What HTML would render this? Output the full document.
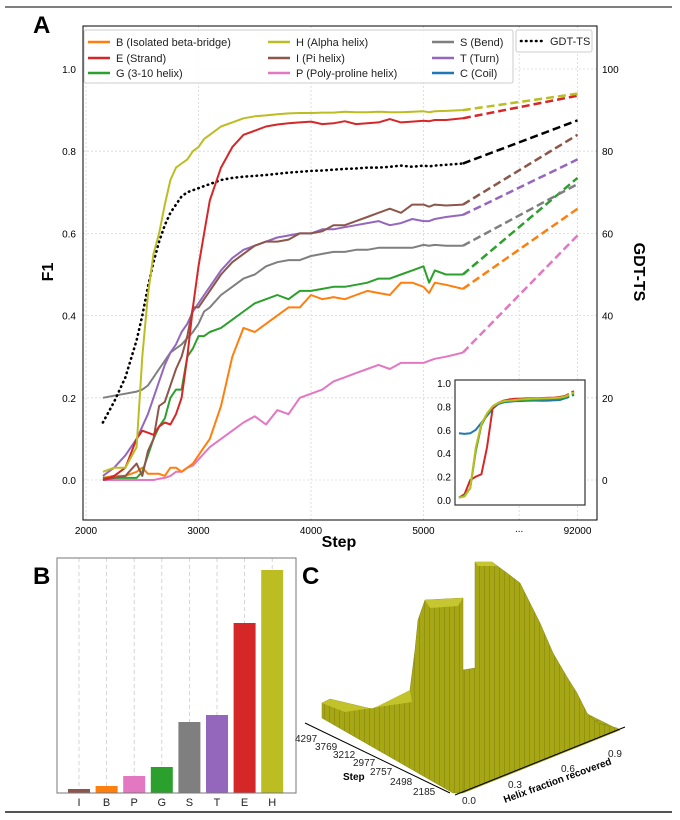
<!DOCTYPE html>
<html><head><meta charset="utf-8"><style>
html,body{margin:0;padding:0;background:#fff;}
svg{display:block;font-family:"Liberation Sans","DejaVu Sans",sans-serif;}
</style></head><body>
<svg id="fig" width="680" height="820" viewBox="0 0 680 820" xmlns="http://www.w3.org/2000/svg">
<defs>
  <pattern id="stripes" width="5" height="10" patternUnits="userSpaceOnUse">
    <rect width="5" height="10" fill="#a7a716"/>
    <line x1="4.5" y1="0" x2="4.5" y2="10" stroke="#8e8e10" stroke-width="0.8"/>
  </pattern>
  <pattern id="floorpat" width="12" height="6" patternUnits="userSpaceOnUse" patternTransform="rotate(-20)">
    <rect width="12" height="6" fill="#a4a418"/>
    <line x1="0" y1="5.5" x2="12" y2="5.5" stroke="#87870e" stroke-width="0.7"/>
  </pattern>
</defs>
<line x1="5" y1="7" x2="672" y2="7" stroke="#333" stroke-width="1.2"/>
<line x1="5" y1="812" x2="672" y2="812" stroke="#555" stroke-width="2"/>
<text x="33" y="33" font-size="24" font-weight="bold">A</text>
<text x="33" y="584" font-size="24" font-weight="bold">B</text>
<text x="302" y="584" font-size="24" font-weight="bold">C</text>
<g id="pa"></g>
<g id="pb"></g>
<g id="pc">
  <polygon points="463,793 463,700 500,690 560,700 600,720 620,730" fill="url(#floorpat)"/>
  <polygon points="463,793 463,670 475,668 475,562 492,562 507,573 520,583 530,603 540,623 553,653 567,677 577,693 587,713 597,723 617,728 620,730 463,793" fill="url(#stripes)" stroke="#8a8a10" stroke-width="0.5"/>
  <polygon points="322,703 330,699 372,709 405,695 410,690 415,650 418,620 425,600 463,598 463,793 453,793 322,718" fill="url(#stripes)" stroke="#8a8a10" stroke-width="0.5"/>
  <polygon points="322,703 330,699 372,709 410,690 412,702 345,712" fill="#c2c22a"/>
  <polygon points="425,600 463,598 458,606 430,608" fill="#c6c630"/>
  <polygon points="475,562 492,562 497,566 478,566" fill="#c6c630"/>
  <line x1="305" y1="723" x2="450" y2="793" stroke="#000" stroke-width="1"/>
  <line x1="455" y1="795" x2="625" y2="727" stroke="#000" stroke-width="1"/>
  <g font-size="10" fill="#222">
    <text x="295" y="742">4297</text><text x="315" y="750">3769</text><text x="333" y="758">3212</text>
    <text x="353" y="766">2977</text><text x="370" y="775">2757</text><text x="390" y="785">2498</text><text x="413" y="795">2185</text>
  </g>
  <text x="343" y="780" font-size="10" font-weight="bold">Step</text>
  <g font-size="10" fill="#222">
    <text x="462" y="804">0.0</text><text x="508" y="788">0.3</text><text x="561" y="772">0.6</text><text x="608" y="757">0.9</text>
  </g>
  <text x="0" y="0" font-size="10" font-weight="bold" transform="translate(505,803) rotate(-20)">Helix fraction recovered</text>
</g>
</svg>
<script>
// ---------- Panel A data ----------
const steps = [2150,2250,2350,2450,2500,2550,2600,2650,2700,2750,2800,2850,2900,2950,3000,3050,3100,3200,3300,3400,3500,3600,3700,3800,3900,4000,4100,4200,4300,4400,4500,4600,4700,4800,4900,5000,5050,5100,5200,5350];
const finalStep = 92000;
const seriesH = [0.02,0.03,0.03,0.08,0.3,0.45,0.55,0.6,0.67,0.73,0.76,0.77,0.78,0.8,0.81,0.83,0.84,0.86,0.87,0.88,0.885,0.887,0.89,0.892,0.893,0.893,0.894,0.894,0.896,0.895,0.895,0.896,0.895,0.895,0.896,0.897,0.895,0.897,0.898,0.9];
const seriesE = [0.0,0.01,0.03,0.1,0.12,0.115,0.11,0.13,0.14,0.135,0.16,0.2,0.3,0.42,0.52,0.6,0.68,0.76,0.81,0.84,0.85,0.86,0.865,0.868,0.87,0.872,0.866,0.868,0.873,0.866,0.868,0.87,0.878,0.87,0.872,0.874,0.873,0.876,0.876,0.88];
const seriesGDT = [0.14,0.19,0.25,0.34,0.4,0.47,0.53,0.58,0.62,0.65,0.67,0.69,0.7,0.705,0.71,0.715,0.72,0.73,0.735,0.738,0.74,0.742,0.745,0.748,0.75,0.752,0.753,0.755,0.757,0.758,0.76,0.76,0.762,0.765,0.762,0.765,0.763,0.765,0.767,0.77];
const seriesI = [0.0,0.005,0.01,0.04,0.01,0.07,0.1,0.18,0.19,0.23,0.27,0.3,0.35,0.42,0.42,0.44,0.46,0.5,0.53,0.55,0.57,0.58,0.58,0.585,0.6,0.6,0.605,0.62,0.62,0.63,0.64,0.65,0.66,0.65,0.67,0.67,0.665,0.67,0.668,0.67];
const seriesT = [0.01,0.03,0.06,0.1,0.13,0.16,0.2,0.24,0.28,0.31,0.33,0.36,0.38,0.41,0.43,0.45,0.47,0.51,0.54,0.56,0.57,0.58,0.59,0.595,0.6,0.6,0.61,0.61,0.615,0.62,0.625,0.63,0.62,0.625,0.635,0.63,0.63,0.635,0.64,0.645];
const seriesS = [0.2,0.205,0.21,0.215,0.22,0.23,0.25,0.27,0.29,0.31,0.32,0.33,0.345,0.36,0.38,0.41,0.42,0.45,0.47,0.49,0.5,0.52,0.53,0.535,0.535,0.545,0.55,0.555,0.555,0.56,0.56,0.565,0.565,0.565,0.565,0.572,0.57,0.572,0.57,0.57];
const seriesG = [0.005,0.005,0.005,0.005,0.02,0.06,0.1,0.13,0.15,0.2,0.22,0.22,0.3,0.32,0.35,0.35,0.36,0.37,0.39,0.41,0.43,0.44,0.45,0.44,0.46,0.46,0.465,0.47,0.47,0.475,0.48,0.49,0.49,0.5,0.51,0.52,0.48,0.51,0.5,0.5];
const seriesB = [0.005,0.01,0.01,0.02,0.03,0.015,0.015,0.015,0.01,0.03,0.03,0.02,0.03,0.04,0.06,0.08,0.1,0.18,0.3,0.37,0.36,0.38,0.4,0.42,0.42,0.45,0.44,0.445,0.44,0.45,0.46,0.455,0.45,0.48,0.48,0.47,0.455,0.48,0.475,0.465];
const seriesP = [0.0,0.0,0.0,0.0,0.0,0.0,0.0,0.003,0.005,0.01,0.02,0.02,0.03,0.035,0.05,0.065,0.08,0.1,0.12,0.14,0.155,0.135,0.17,0.16,0.2,0.21,0.22,0.24,0.25,0.26,0.27,0.28,0.27,0.285,0.285,0.285,0.29,0.295,0.3,0.31];
const finalValues = {H:0.94,E:0.935,GDT:0.875,I:0.84,T:0.78,S:0.72,G:0.735,B:0.66,P:0.595};
const xTickVals = [2000,3000,4000,5000];
const xTickLabels = ["2000","3000","4000","5000"];
const yTicks = [0.0,0.2,0.4,0.6,0.8,1.0];
const y2Ticks = [0,20,40,60,80,100];
// inset data
const insetC = [0.57,0.565,0.57,0.6,0.66,0.72,0.78,0.82,0.835,0.84,0.845,0.845,0.848,0.85,0.85,0.848,0.85,0.852,0.855,0.87];
const insetE = [0.02,0.05,0.17,0.2,0.22,0.45,0.78,0.83,0.85,0.86,0.865,0.867,0.868,0.87,0.87,0.872,0.874,0.875,0.88,0.89];
const insetG = [0.02,0.04,0.1,0.42,0.64,0.73,0.8,0.83,0.84,0.845,0.85,0.852,0.855,0.857,0.86,0.86,0.862,0.865,0.868,0.88];
const insetH = [0.02,0.03,0.1,0.45,0.65,0.74,0.8,0.83,0.845,0.85,0.855,0.86,0.862,0.865,0.867,0.868,0.87,0.872,0.875,0.885];
const insetFinal = {C:0.9,E:0.93,G:0.91,H:0.92};
const insetTicks = [0.0,0.2,0.4,0.6,0.8,1.0];
// panel B
const bCats = ["I","B","P","G","S","T","E","H"];
const bVals = [4,7,17,26,71,78,170,223];
const bColors = ["#8c564b","#ff7f0e","#e377c2","#2ca02c","#7f7f7f","#9467bd","#d62728","#bcbd22"];

const NS = "http://www.w3.org/2000/svg";
function mk(tag, attrs, parent){const e=document.createElementNS(NS,tag);for(const k in attrs)e.setAttribute(k,attrs[k]);parent.appendChild(e);return e;}

// ---------- Panel A ----------
const pa = document.getElementById('pa');
const L=83,R=597,T=26,Bt=520;
function xs(s){ if(s===finalStep) s=6369; return 86 + (s-2000)*0.1125; }
function ys(v){ return 480 - v*411; }
xTickVals.concat([5850,6369]).forEach(v=>{
  const g=mk('line',{x1:xs(v),x2:xs(v),y1:T,y2:Bt,stroke:'#d8d8d8','stroke-width':0.8,'stroke-dasharray':'2,2'},pa);
  
  
});
yTicks.forEach(v=>{
  const g=mk('line',{x1:L,x2:R,y1:ys(v),y2:ys(v),stroke:'#d8d8d8','stroke-width':0.8,'stroke-dasharray':'2,2'},pa);
  
  
});
const frame=mk('rect',{x:L,y:T,width:R-L,height:Bt-T,fill:'none',stroke:'#000','stroke-width':1},pa);


xTickVals.forEach((v,i)=>{
  const t=mk('text',{x:xs(v),y:534,'font-size':10,'text-anchor':'middle'},pa);t.textContent=xTickLabels[i];
  
  
});
const dots=mk('text',{x:xs(5850),y:532,'font-size':10,'text-anchor':'middle'},pa);dots.textContent='...';


const ft=mk('text',{x:xs(finalStep),y:534,'font-size':10,'text-anchor':'middle'},pa);ft.textContent=String(finalStep);


yTicks.forEach(v=>{
  const t=mk('text',{x:76,y:ys(v)+4,'font-size':10,'text-anchor':'end'},pa);t.textContent=v.toFixed(1);
  
  
});
y2Ticks.forEach(v=>{
  const t=mk('text',{x:602,y:ys(v/100)+4,'font-size':10},pa);t.textContent=String(v);
  
  
});
const xl=mk('text',{x:339,y:547,'font-size':16,'font-weight':'bold','text-anchor':'middle'},pa);xl.textContent='Step';


const yl=mk('text',{x:0,y:0,'font-size':16,'font-weight':'bold','text-anchor':'middle',transform:'translate(53,272) rotate(-90)'},pa);yl.textContent='F1';


const yl2=mk('text',{x:0,y:0,'font-size':16,'font-weight':'bold','text-anchor':'middle',transform:'translate(634,272) rotate(90)'},pa);yl2.textContent='GDT-TS';



const seriesList=[
 ['P',seriesP,'#e377c2'],['B',seriesB,'#ff7f0e'],['G',seriesG,'#2ca02c'],['S',seriesS,'#7f7f7f'],
 ['T',seriesT,'#9467bd'],['I',seriesI,'#8c564b'],['GDT',seriesGDT,'#000'],['E',seriesE,'#d62728'],['H',seriesH,'#bcbd22']];
seriesList.forEach(([k,vals,col])=>{
  const pts=steps.map((s,i)=>xs(s).toFixed(1)+','+ys(vals[i]).toFixed(1)).join(' ');
  const attrs={points:pts,fill:'none',stroke:col,'stroke-width':2,'stroke-linejoin':'round'};
  if(k==='GDT'){attrs['stroke-dasharray']='0.5,4.5';attrs['stroke-linecap']='round';attrs['stroke-width']=2.6;}
  const pl=mk('polyline',attrs,pa);
  
  
  const last=steps.length-1;
  const dl=mk('line',{x1:xs(steps[last]),y1:ys(vals[last]),x2:xs(finalStep),y2:ys(finalValues[k]),stroke:col,'stroke-width':2.5,'stroke-dasharray':'8,4'},pa);
  
  
});

// legend
const lg=mk('g',{},pa);


mk('rect',{x:84,y:30,width:429,height:53,fill:'#fff','fill-opacity':0.85,stroke:'#ccc',rx:2},lg);
const legItems=[
 ['B (\u0399solated beta-bridge)','#ff7f0e',88,42],['E (Strand)','#d62728',88,58],['G (3-10 helix)','#2ca02c',88,73],
 ['H (Alpha helix)','#bcbd22',268,42],['\u0399 (Pi helix)','#8c564b',268,58],['P (Poly-proline helix)','#e377c2',268,73],
 ['S (Bend)','#7f7f7f',432,42],['T (Turn)','#9467bd',432,58],['C (Coil)','#1f77b4',432,73]];
legItems.forEach(([lab,col,x,y])=>{
  const g=mk('g',{},lg);
  
  
  mk('line',{x1:x,x2:x+22,y1:y,y2:y,stroke:col,'stroke-width':2.5},g);
  const t=mk('text',{x:x+28,y:y+4,'font-size':11,fill:'#222'},g);t.textContent=lab;
});
const lg2=mk('g',{},pa);


mk('rect',{x:516,y:30,width:76,height:22,fill:'#fff',stroke:'#ccc',rx:2},lg2);
mk('line',{x1:521,x2:543,y1:41,y2:41,stroke:'#000','stroke-width':2.6,'stroke-dasharray':'0.5,4.5','stroke-linecap':'round'},lg2);
const gt=mk('text',{x:550,y:45,'font-size':11,fill:'#222'},lg2);gt.textContent='GDT-TS';

// inset
const ins=mk('g',{},pa);


const IL=455,IR=585,IT=380,IB=505;
function iy(v){return 500-v*117;}
function ix(i,n){return 459+i*(112/(n));}
mk('rect',{x:IL,y:IT,width:IR-IL,height:IB-IT,fill:'#fff',stroke:'#333','stroke-width':1.2},ins);
insetTicks.forEach(v=>{
  const t=mk('text',{x:451,y:iy(v)+4,'font-size':10,'text-anchor':'end'},ins);t.textContent=v.toFixed(1);
  
  
});
[['C',insetC,'#1f77b4'],['E',insetE,'#d62728'],['G',insetG,'#2ca02c'],['H',insetH,'#bcbd22']].forEach(([k,vals,col])=>{
  const n=vals.length;
  const pts=vals.map((v,i)=>ix(i,n).toFixed(1)+','+iy(v).toFixed(1)).join(' ');
  const pl=mk('polyline',{points:pts,fill:'none',stroke:col,'stroke-width':2},ins);
  
  
  const dl=mk('line',{x1:ix(n-1,n),y1:iy(vals[n-1]),x2:ix(n,n)+3,y2:iy(insetFinal[k]),stroke:col,'stroke-width':2.2,'stroke-dasharray':'4,3'},ins);
  
  
});

// ---------- Panel B ----------
const pb=document.getElementById('pb');
const BL=57,BR=296,BT=558,BB=793;
function bx(i){return 79+i*27.6;}
function by(v){return BB - v;}
bCats.forEach((c,i)=>{
  const g=mk('line',{x1:bx(i),x2:bx(i),y1:BT,y2:BB,stroke:'#ccc','stroke-width':0.8,'stroke-dasharray':'4,3'},pb);
  
  
});
bCats.forEach((c,i)=>{
  const r=mk('rect',{x:bx(i)-11,y:by(bVals[i]),width:22,height:BB-by(bVals[i]),fill:bColors[i]},pb);
  
  
  const t=mk('text',{x:bx(i),y:806,'font-size':11,'text-anchor':'middle',fill:'#222'},pb);t.textContent=(c==='I'?'\u0399':c);
  
  
});
const bf=mk('rect',{x:BL,y:BT,width:BR-BL,height:BB-BT,fill:'none',stroke:'#777','stroke-width':1},pb);


</script>
</body></html>
